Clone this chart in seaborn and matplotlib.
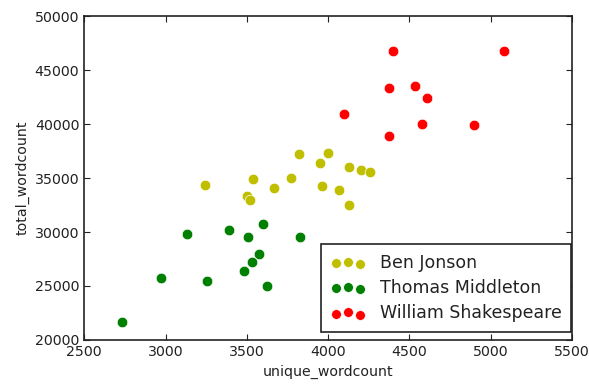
import matplotlib
matplotlib.use("Agg")
import matplotlib.pyplot as plt
import seaborn as sns
import pandas as pd

# word counts per play
jonson_unique = [3240, 3500, 3520, 3540, 3670, 3770, 3820, 3960, 4000, 3950, 4070, 4130, 4200, 4260, 4130]
jonson_total = [34400, 33300, 33000, 34900, 34100, 35050, 37200, 34250, 37350, 36400, 33850, 36050, 35750, 35600, 32500]

middleton_unique = [2735, 2970, 3130, 3255, 3390, 3510, 3600, 3575, 3535, 3480, 3625, 3830]
middleton_total = [21700, 25750, 29800, 25500, 30200, 29500, 30750, 27950, 27250, 26400, 25000, 29550]

shakespeare_unique = [4400, 5080, 4375, 4535, 4610, 4095, 4580, 4895, 4375]
shakespeare_total = [46800, 46800, 43300, 43550, 42400, 40900, 40050, 39900, 38900]

authors = ["Ben Jonson", "Thomas Middleton", "William Shakespeare"]
colors = ["y", "g", "r"]

frames = [
    pd.DataFrame({"unique_wordcount": jonson_unique, "total_wordcount": jonson_total}),
    pd.DataFrame({"unique_wordcount": middleton_unique, "total_wordcount": middleton_total}),
    pd.DataFrame({"unique_wordcount": shakespeare_unique, "total_wordcount": shakespeare_total}),
]

sns.set_style("white", {"xtick.direction": "in", "ytick.direction": "in",
                        "axes.edgecolor": "#222222", "xtick.bottom": True, "ytick.left": True,
                        "xtick.top": True, "ytick.right": True})
plt.rcParams["font.family"] = ["DejaVu Sans"]

fig = plt.figure(figsize=(5.89, 3.85), dpi=100)
ax = fig.add_axes([0.143, 0.117, 0.828, 0.841])
for d, name, c in zip(frames, authors, colors):
    sns.scatterplot(data=d, x="unique_wordcount", y="total_wordcount", color=c,
                    label=name, s=58, edgecolor="white", linewidth=0.5, ax=ax, legend=False)

ax.set_xlim(2500, 5500)
ax.set_ylim(20000, 50000)
ax.set_xticks(range(2500, 5501, 500))
ax.set_yticks(range(20000, 50001, 5000))
ax.tick_params(labelsize=10.2, length=4, width=0.8, colors="#222222")
ax.set_xlabel("unique_wordcount", fontsize=10.2, color="#222222")
ax.set_ylabel("total_wordcount", fontsize=10.2, color="#222222")
for sp in ax.spines.values():
    sp.set_linewidth(1.2)
    sp.set_color("#222222")

leg = ax.legend(loc="lower right", bbox_to_anchor=(0.998, 0.025), borderaxespad=0,
                scatterpoints=3, scatteryoffsets=[0.375, 0.5, 0.3125],
                fontsize=12.5, fancybox=False, edgecolor="#222222", framealpha=1,
                labelspacing=0.42, handletextpad=0.8, handlelength=2.0, borderpad=0.55)
leg.get_frame().set_linewidth(1.2)
for t in leg.get_texts():
    t.set_color("#222222")
for h in leg.legend_handles:
    h.set_sizes([50])

fig.savefig("out.png", dpi=100)
